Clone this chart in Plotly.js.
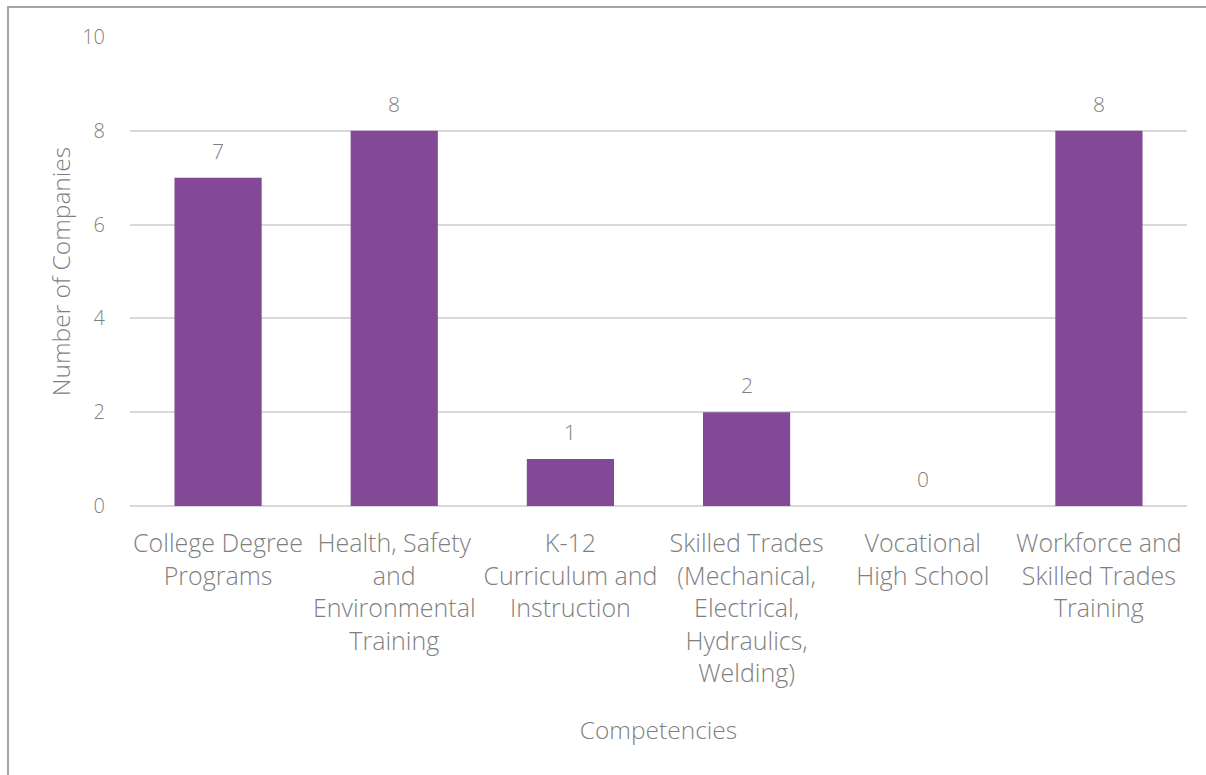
<!DOCTYPE html>
<html>
<head>
<meta charset="utf-8">
<script src="https://cdn.plot.ly/plotly-3.0.1.min.js"></script>
<style>
  html, body { margin: 0; padding: 0; background: #fff; overflow: hidden; }
  #wrap { position: relative; width: 1206px; height: 775px; }
  #chart { width: 1206px; height: 775px; }
  #frame { position: absolute; left: 7px; top: 6px; width: 1300px; height: 900px;
           border-left: 2px solid #a6a6a6; border-top: 2px solid #a6a6a6; pointer-events: none; }
</style>
</head>
<body>
<div id="wrap">
  <div id="chart"></div>
  <div id="frame"></div>
</div>
<script>
const categories = [
  "College Degree<br>Programs",
  "Health, Safety<br>and<br>Environmental<br>Training",
  "K-12<br>Curriculum and<br>Instruction",
  "Skilled Trades<br>(Mechanical,<br>Electrical,<br>Hydraulics,<br>Welding)",
  "Vocational<br>High School",
  "Workforce and<br>Skilled Trades<br>Training"
];
const companies = [7, 8, 1, 2, 0, 8];
const yTicks = [0, 2, 4, 6, 8, 10];

const fontFam = "'Open Sans', 'Segoe UI', sans-serif";
const grey = "#7f7f7f";

const trace = {
  type: "bar",
  x: categories,
  y: companies,
  marker: { color: "#834896" },
  hoverinfo: "x+y"
};

const labels = categories.map((c, i) => ({
  x: c,
  y: companies[i],
  xref: "x",
  yref: "y",
  text: String(companies[i]),
  showarrow: false,
  yanchor: "bottom",
  yshift: 11,
  font: { family: fontFam, size: 21, color: grey, weight: 300 }
}));

const layout = {
  width: 1206,
  height: 775,
  margin: { l: 130, r: 19, t: 37, b: 269 },
  paper_bgcolor: "#ffffff",
  plot_bgcolor: "#ffffff",
  bargap: 0.505,
  showlegend: false,
  font: { family: fontFam, color: grey, weight: 300 },
  annotations: labels,
  xaxis: {
    type: "category",
    tickfont: { family: fontFam, size: 25, color: grey, weight: 300 },
    ticks: "",
    showline: false,
    showgrid: false,
    ticklabelstandoff: 20,
    tickangle: 0,
    title: { text: "Competencies", font: { family: fontFam, size: 24.5, color: grey, weight: 300 }, standoff: 33 },
    automargin: false
  },
  yaxis: {
    range: [0, 10],
    tickvals: yTicks,
    ticktext: yTicks.map(String),
    tickfont: { family: fontFam, size: 20, color: grey, weight: 300 },
    showgrid: true,
    gridcolor: "#d9d9d9",
    gridwidth: 2,
    zeroline: true,
    zerolinecolor: "#d9d9d9",
    zerolinewidth: 2,
    showline: false,
    ticks: "",
    ticklabelstandoff: 24,
    title: { text: "Number of Companies", font: { family: fontFam, size: 24.5, color: grey, weight: 300 }, standoff: 4 },
    automargin: false
  }
};

Plotly.newPlot("chart", [trace], layout, { displayModeBar: false, staticPlot: true });
</script>
</body>
</html>
